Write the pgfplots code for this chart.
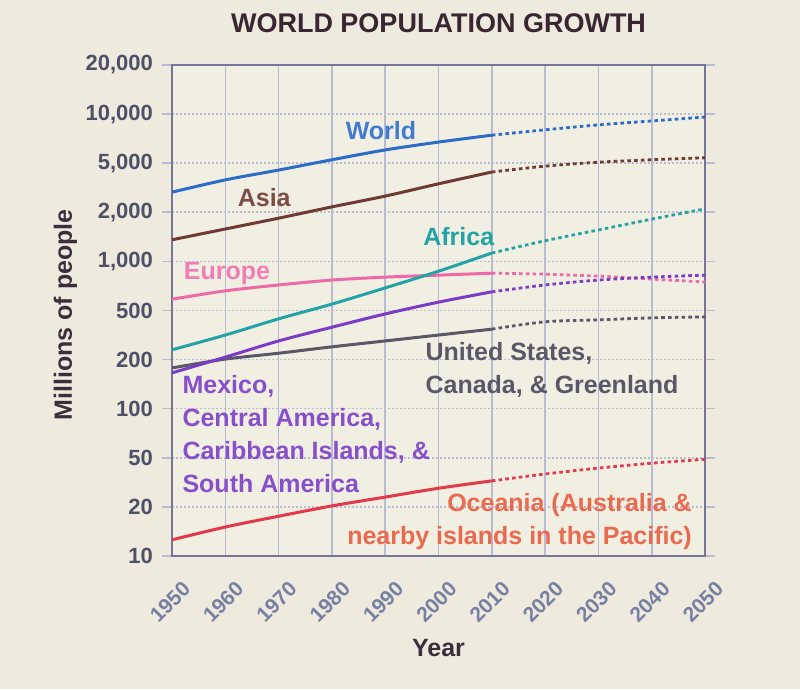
\documentclass[border=0pt]{standalone}
\usepackage{fontspec}
\setmainfont{Liberation Sans}
\usepackage{pgfplots}
\usepackage{pgfplotstable}
\pgfplotsset{compat=1.18}
\usetikzlibrary{backgrounds}
\definecolor{bg}{HTML}{EEEBDE}
\definecolor{plotbg}{HTML}{F1EEE2}
\definecolor{gridc}{HTML}{B7BBD6}
\definecolor{framec}{HTML}{76769A}
\definecolor{tickc}{HTML}{4E5068}
\definecolor{xtickc}{HTML}{7880A2}
\definecolor{titlec}{HTML}{3A2632}
\definecolor{worldc}{HTML}{2A6CC8}
\definecolor{asiac}{HTML}{6E3A32}
\definecolor{europec}{HTML}{EC6AA8}
\definecolor{africac}{HTML}{23A3A6}
\definecolor{latamc}{HTML}{7A3CC4}
\definecolor{usac}{HTML}{5A5868}
\definecolor{oceaniac}{HTML}{E23A4A}
\definecolor{oceanialab}{HTML}{EA6A50}
\definecolor{europelab}{HTML}{F07EB6}

% positions on the chart's evenly spaced scale: 0=10, 1=20, 2=50, 3=100, 4=200, 5=500, 6=1,000, 7=2,000, 8=5,000, 9=10,000, 10=20,000
\pgfplotstableread{
year world asia europe africa latam usa oceania
1950 7.41 6.44 5.23 4.20 3.73 3.83 0.33
1960 7.66 6.66 5.40 4.50 4.05 4.01 0.59
1970 7.86 6.88 5.52 4.83 4.38 4.13 0.81
1980 8.07 7.11 5.62 5.13 4.66 4.26 1.02
1990 8.27 7.33 5.68 5.46 4.93 4.38 1.20
2000 8.43 7.58 5.72 5.80 5.17 4.50 1.38
2010 8.57 7.82 5.76 6.17 5.38 4.62 1.53
2020 8.68 7.94 5.74 6.42 5.52 4.77 1.67
2030 8.78 8.02 5.70 6.64 5.62 4.81 1.79
2040 8.86 8.07 5.64 6.86 5.68 4.85 1.89
2050 8.94 8.11 5.58 7.07 5.72 4.87 1.97
}\popdata

\pgfplotsset{
  solidline/.style={line width=1.5pt, smooth, restrict x to domain=1950:2010},
  proj/.style={line width=1.4pt, smooth, dash pattern=on 1.8pt off 1.6pt, restrict x to domain=2010:2050},
}
\tikzset{
  lab/.style={font=\fontsize{12.5}{16.5}\selectfont\bfseries, inner sep=0pt}
}

\begin{document}
\begin{tikzpicture}
\begin{axis}[
  scale only axis, width=266.5pt, height=245.5pt,
  xmin=1950, xmax=2050, ymin=0, ymax=10,
  xtick={1950,1960,1970,1980,1990,2000,2010,2020,2030,2040,2050},
  xticklabels={1950,1960,1970,1980,1990,2000,2010,2020,2030,2040,2050},
  ytick={0,1,2,3,4,5,6,7,8,9,10},
  yticklabels={10,20,50,100,200,500,{1,000},{2,000},{5,000},{10,000},{20,000}},
  grid=major,
  x grid style={draw=gridc, line width=0.8pt},
  y grid style={draw=gridc, line width=0.8pt, dash pattern=on 1.2pt off 0.8pt},
  axis line style={draw=framec, line width=1.1pt},
  axis background/.style={fill=plotbg},
  tick align=outside,
  xtick style={draw=none},
  ytick style={draw=gridc, line width=0.8pt},
  major tick length=5pt,
  yticklabel style={font=\fontsize{11}{13}\selectfont\bfseries, text=tickc, xshift=-1pt},
  xticklabel style={font=\fontsize{10.5}{13}\selectfont\bfseries, text=xtickc, yshift=-18pt, xshift=-1pt, rotate=45, anchor=center},
  title={WORLD POPULATION GROWTH},
  title style={at={(axis description cs:0.5,1.061)}, anchor=center, font=\fontsize{13.5}{15}\selectfont\bfseries, text=titlec},
  xlabel={Year},
  xlabel style={at={(axis description cs:0.5,-0.187)}, anchor=center, font=\fontsize{12.5}{14}\selectfont\bfseries, text=titlec!80!tickc},
  ylabel={Millions of people},
  ylabel style={at={(axis description cs:-0.2,0.491)}, anchor=center, font=\fontsize{12.5}{14}\selectfont\bfseries, text=titlec!80!tickc},
]
\coordinate (SW) at (rel axis cs:0,0);
\coordinate (NE) at (rel axis cs:1,1);

\addplot[europec, solidline] table[x=year,y=europe]{\popdata};
\addplot[europec, proj] table[x=year,y=europe]{\popdata};
\addplot[usac, solidline] table[x=year,y=usa]{\popdata};
\addplot[usac, proj] table[x=year,y=usa]{\popdata};
\addplot[latamc, solidline] table[x=year,y=latam]{\popdata};
\addplot[latamc, proj] table[x=year,y=latam]{\popdata};
\addplot[africac, solidline] table[x=year,y=africa]{\popdata};
\addplot[africac, proj] table[x=year,y=africa]{\popdata};
\addplot[oceaniac, solidline] table[x=year,y=oceania]{\popdata};
\addplot[oceaniac, proj] table[x=year,y=oceania]{\popdata};
\addplot[asiac, solidline] table[x=year,y=asia]{\popdata};
\addplot[asiac, proj] table[x=year,y=asia]{\popdata};
\addplot[worldc, solidline] table[x=year,y=world]{\popdata};
\addplot[worldc, proj] table[x=year,y=world]{\popdata};

\node[lab, text=worldc!90!white] at (axis cs:1989.2,8.66) {World};
\node[lab, text=asiac!90!white] at (axis cs:1967.3,7.29) {Asia};
\node[lab, text=africac] at (axis cs:2003.8,6.50) {Africa};
\node[lab, text=europelab] at (axis cs:1960.3,5.75) {Europe};
\node[lab, text=usac, anchor=west, align=left] at (axis cs:1997.5,3.80) {United States,\\Canada, \& Greenland};
\node[lab, text=latamc!90!white, anchor=west, align=left] at (axis cs:1951.9,2.48) {Mexico,\\Central America,\\Caribbean Islands, \&\\South America};
\node[lab, text=oceanialab, anchor=east, align=right] at (axis cs:2047.6,0.71) {Oceania (Australia \&\\nearby islands in the Pacific)};
\end{axis}
\begin{scope}[on background layer]
\fill[bg] ([shift={(-86pt,-66.5pt)}]SW) rectangle ([shift={(47.5pt,32.5pt)}]NE);
\end{scope}
\end{tikzpicture}
\end{document}
